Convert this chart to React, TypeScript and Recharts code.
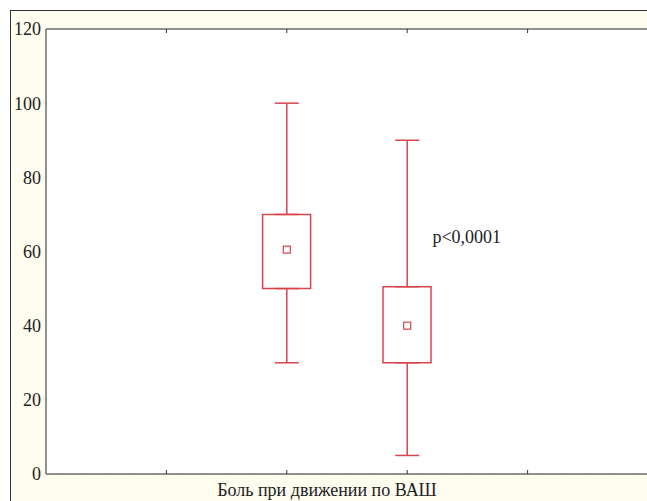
import {
  Bar,
  CartesianGrid,
  ComposedChart,
  ErrorBar,
  ReferenceDot,
  Scatter,
  XAxis,
  YAxis,
} from 'recharts';

// positions of the two groups on the x axis (0..5)
const positions = [2, 3];
const lows = [30, 5];
const q1s = [50, 30];
const medians = [60.5, 40];
const q3s = [70, 50.5];
const highs = [100, 90];

const yTicks = [0, 20, 40, 60, 80, 100, 120];
const xTicks = [1, 2, 3, 4];

const RED = '#d9444c';
const AXIS = '#6e6e6e';
const FONT = '"Liberation Serif", "DejaVu Serif", serif';

const data = positions.map((x, i) => ({
  x,
  low: lows[i],
  q1: q1s[i],
  median: medians[i],
  q3: q3s[i],
  high: highs[i],
  box: [q1s[i], q3s[i]],
  upErr: [0, highs[i] - q3s[i]],
  downErr: [q1s[i] - lows[i], 0],
}));

const MedianSquare = (props: any) => {
  const { cx, cy } = props;
  if (cx == null || cy == null) return <g />;
  return (
    <rect x={cx - 3.5} y={cy - 3.5} width={7} height={7} fill="#fff" stroke={RED} strokeWidth={1.2} />
  );
};

const Hidden = () => <g />;

// inward tick marks for the x axes
const InTickUp = (props: any) => (
  <line x1={props.x} x2={props.x} y1={props.y} y2={props.y - 4} stroke="#333" strokeWidth={1} />
);
const InTickDown = (props: any) => (
  <line x1={props.x} x2={props.x} y1={props.y} y2={props.y + 4} stroke="#333" strokeWidth={1} />
);

const App = () => {
  return (
    <div style={{ position: 'absolute', left: 0, top: 0, width: 647, height: 501, overflow: 'hidden', background: '#fff' }}>
      <div
        style={{
          position: 'absolute',
          left: 10,
          top: 10,
          right: -5,
          bottom: -5,
          background: '#fffcf0',
          borderLeft: '1.5px solid #333',
          borderTop: '1.5px solid #333',
        }}
      />
      <div style={{ position: 'absolute', left: 0, top: 0 }}>
        <ComposedChart
          width={660}
          height={501}
          data={data}
          margin={{ top: 28, right: 12, bottom: 0, left: 0 }}
          style={{ fontFamily: FONT }}
        >
          <rect x={46} y={29} width={602} height={445} fill="#fff" />
          <CartesianGrid vertical={false} stroke="#c4c4c4" strokeDasharray="1 2" />
          <XAxis
            dataKey="x"
            type="number"
            domain={[0, 5]}
            ticks={xTicks}
            allowDataOverflow
            tick={InTickUp}
            tickSize={0}
            tickMargin={0}
            tickLine={false}
            height={27}
            axisLine={{ stroke: AXIS, strokeWidth: 1.5 }}
            label={{
              value: 'Боль при движении по ВАШ',
              position: 'insideBottom',
              offset: 5,
              dx: -20,
              fill: '#222',
              fontSize: 18,
              fontFamily: FONT,
            }}
          />
          <XAxis
            xAxisId="top"
            dataKey="x"
            orientation="top"
            type="number"
            domain={[0, 5]}
            ticks={xTicks}
            allowDataOverflow
            tick={InTickDown}
            tickSize={0}
            tickMargin={0}
            tickLine={false}
            height={1}
            axisLine={{ stroke: AXIS, strokeWidth: 1.5 }}
          />
          <YAxis
            type="number"
            domain={[0, 120]}
            ticks={yTicks}
            width={46}
            tickSize={4}
            tickMargin={1}
            tickLine={false}
            axisLine={{ stroke: AXIS, strokeWidth: 1.5 }}
            tick={{ fill: '#222', fontSize: 18, fontFamily: FONT }}
          />
          <Bar
            dataKey="box"
            barSize={48}
            fill="#fff"
            stroke={RED}
            strokeWidth={1.5}
            isAnimationActive={false}
          />
          <Scatter xAxisId="top" dataKey="q3" shape={Hidden} isAnimationActive={false}>
            <ErrorBar dataKey="upErr" direction="y" width={12} stroke={RED} strokeWidth={1.5} />
          </Scatter>
          <Scatter dataKey="q1" shape={Hidden} isAnimationActive={false}>
            <ErrorBar dataKey="downErr" direction="y" width={12} stroke={RED} strokeWidth={1.5} />
          </Scatter>
          <Scatter dataKey="median" shape={MedianSquare} isAnimationActive={false} />
          <ReferenceDot
            x={3.21}
            y={64}
            r={0}
            fill="none"
            stroke="none"
            label={{ value: 'p<0,0001', position: 'right', offset: 0, fill: '#222', fontSize: 18, fontFamily: FONT }}
          />
        </ComposedChart>
      </div>
    </div>
  );
};

export default App;
